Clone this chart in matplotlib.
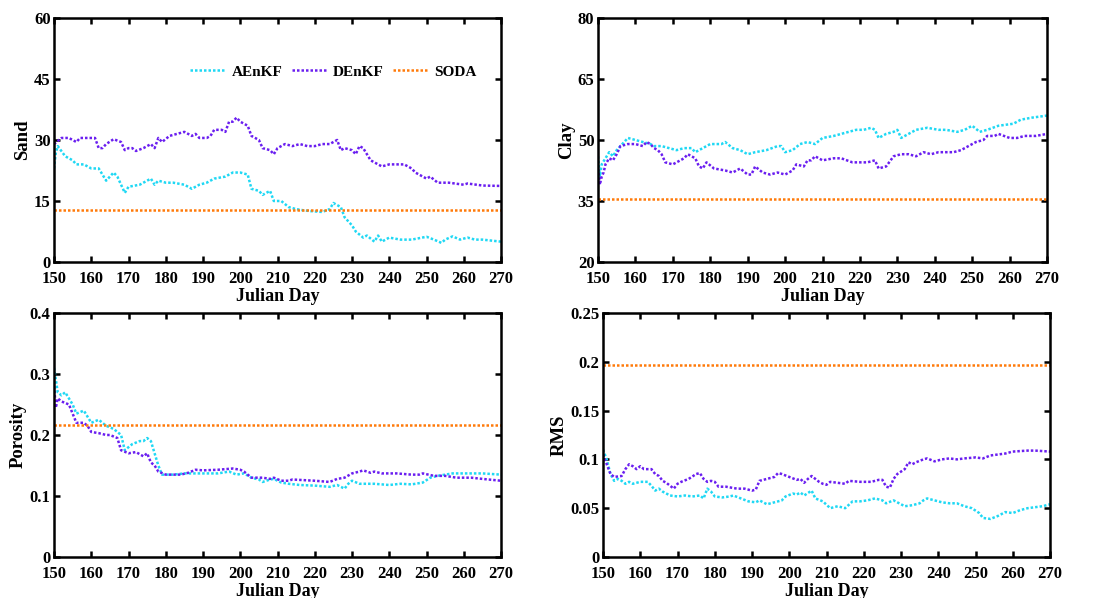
import matplotlib
matplotlib.use("Agg")
import matplotlib.pyplot as plt

plt.rcParams['font.family'] = ['Liberation Serif', 'DejaVu Serif']
plt.rcParams['font.weight'] = 'bold'

COL_A = '#1FD8F4'
COL_D = '#6A1EF0'
COL_S = '#FF7A0A'
DOTS = (0, (1.0, 0.8))

# ---- Sand ----
sand_a_day = [150, 150.5, 151, 153, 155, 156, 158, 160, 162, 163, 164, 166, 167, 168, 169, 170, 173, 175, 176,
              177, 178, 180, 182, 185, 187, 189, 191, 193, 196, 198, 200, 202, 203, 205, 206, 208, 209, 211,
              213, 215, 217, 219, 222, 224, 225, 227, 228, 230, 231, 233, 234, 236, 237, 238, 240, 243, 246,
              250, 252, 254, 255, 257, 259, 261, 263, 265, 270]
sand_a = [23, 27, 28.5, 26, 25, 24, 24, 23, 23, 21.5, 20, 22, 21, 19, 17, 18.5, 19, 20, 20.5,
          19, 20, 19.5, 19.5, 19, 18, 19, 19.5, 20.5, 21, 22, 22, 21.5, 18, 17.5, 16.5, 17.5, 15, 15,
          13.5, 13, 12.7, 12.5, 12.3, 13, 14.5, 13.5, 11, 9, 7.5, 6, 6.5, 5, 6.5, 5, 6, 5.5, 5.5,
          6.2, 5.5, 4.7, 5.5, 6.3, 5.5, 6, 5.5, 5.5, 5]
sand_d_day = [150, 152, 154, 156, 157, 161, 162, 163, 164, 166, 168, 169, 170, 171, 172, 174, 176, 177, 178,
              179, 181, 183, 185, 187, 188, 189, 191, 192, 193, 195, 196, 197, 198, 199, 200, 202, 203, 205,
              206, 208, 209, 210, 212, 214, 216, 218, 220, 222, 224, 226, 227, 228, 230, 231, 232, 233, 235,
              236, 238, 240, 244, 246, 247, 249, 250, 251, 253, 256, 260, 261, 265, 270]
sand_d = [29, 30.5, 30.5, 29.5, 30.5, 30.5, 28, 28, 29, 30.2, 29.5, 27.5, 28, 28, 27.3, 28, 29, 28, 30.5,
          29.5, 31, 31.5, 32, 31, 31.5, 30.5, 30.5, 31, 32.5, 32.5, 32, 34.5, 34.5, 35.5, 34.5, 33.5, 31, 30,
          28, 27.5, 26.5, 28, 29, 28.5, 29, 28.5, 28.5, 29, 29, 30, 27.5, 28, 27.5, 26.5, 28.5, 28, 25,
          24.5, 23.5, 24, 24, 23, 22, 21, 20.5, 21, 19.5, 19.5, 19, 19.3, 18.8, 18.7]
sand_soda = 12.8

# ---- Clay ----
clay_a_day = [150, 150.5, 151, 152, 153, 154, 155, 156, 157, 158, 160, 162, 164, 165, 167, 169, 171, 173, 175,
              176, 178, 180, 183, 184, 186, 188, 190, 192, 195, 198, 199, 200, 202, 204, 206, 208, 210, 213,
              215, 217, 219, 221, 223, 224, 225, 227, 229, 230, 231, 233, 235, 238, 241, 243, 246, 248, 250,
              252, 254, 257, 261, 263, 266, 270]
clay_a = [46, 41, 44, 45.5, 47, 46, 47.5, 48.5, 49.5, 50.5, 50, 49.5, 49, 48.5, 48.5, 48, 47.5, 48, 48,
          47, 48, 49, 49, 49.5, 48, 47.5, 46.5, 47, 47.5, 48.5, 48.5, 47, 47.5, 49, 49.5, 49, 50.5, 51,
          51.5, 52, 52.5, 52.5, 53, 52.5, 50.5, 51.5, 52, 52.5, 50.5, 51.5, 52.5, 53, 52.5, 52.5, 52, 52.5, 53.5,
          52, 52.5, 53.5, 54, 55, 55.5, 56]
clay_d_day = [150, 150.5, 151, 151.5, 152, 153, 154, 155, 156, 158, 160, 162, 163, 164, 165, 166, 167, 168,
              170, 171, 173, 174, 176, 177, 178, 179, 181, 184, 186, 188, 190, 191, 192, 194, 196, 198, 200,
              202, 203, 205, 206, 207, 208, 210, 213, 215, 218, 222, 224, 225, 227, 229, 231, 233, 235, 237,
              239, 241, 245, 247, 249, 251, 253, 254, 256, 257, 260, 262, 264, 267, 270]
clay_d = [43, 39, 41, 42, 44, 45.5, 45, 46.5, 48.5, 49, 49, 48.5, 49.5, 49, 48, 47.5, 46.5, 44.5,
          44, 44.5, 45.5, 46.5, 45.5, 43.5, 43, 44.5, 43, 42.5, 42, 43, 41.5, 41.5, 43.5, 42, 41.5, 42, 41.5,
          42.5, 44, 43.5, 45, 45, 46, 45, 45.5, 45.5, 44.5, 44.5, 45, 43, 43.5, 46, 46.5, 46.5, 46, 47,
          46.5, 47, 47, 47.5, 48.5, 49.5, 50, 51, 51, 51.5, 50.5, 50.5, 51, 51, 51.5]
clay_soda = 35.6

# ---- Porosity ----
por_a_day = [150, 151, 152, 153, 154, 155, 156, 158, 159, 160, 162, 164, 166, 168, 169, 171, 173, 174, 175,
             176, 177, 178, 179, 182, 185, 190, 194, 197, 199, 201, 203, 205, 206, 208, 209, 211, 213, 216,
             220, 224, 226, 228, 229, 230, 232, 236, 240, 243, 246, 249, 251, 253, 255, 257, 260, 265, 270]
por_a = [0.31, 0.27, 0.265, 0.27, 0.26, 0.25, 0.235, 0.24, 0.23, 0.22, 0.225, 0.215, 0.21, 0.2, 0.175, 0.185, 0.19, 0.19, 0.195,
         0.19, 0.17, 0.15, 0.135, 0.135, 0.137, 0.137, 0.137, 0.14, 0.135, 0.137, 0.13, 0.127, 0.123, 0.127, 0.128, 0.122, 0.12, 0.118,
         0.117, 0.115, 0.118, 0.112, 0.12, 0.125, 0.12, 0.12, 0.118, 0.12, 0.119, 0.122, 0.13, 0.133, 0.135, 0.137, 0.137, 0.137, 0.135]
por_d_day = [150, 150.5, 151, 152, 154, 155, 156, 158, 159, 160, 162, 164, 165, 167, 168, 170, 172, 174, 175,
             176, 177, 178, 180, 184, 186, 188, 190, 194, 198, 200, 201, 203, 206, 208, 209, 211, 213, 214,
             220, 224, 226, 228, 230, 232, 233, 235, 236, 238, 242, 246, 248, 249, 252, 255, 258, 262, 265, 270]
por_d = [0.28, 0.245, 0.26, 0.255, 0.25, 0.235, 0.22, 0.22, 0.215, 0.205, 0.203, 0.2, 0.2, 0.195, 0.175, 0.17, 0.172, 0.165, 0.17,
         0.155, 0.15, 0.14, 0.135, 0.135, 0.138, 0.143, 0.142, 0.143, 0.145, 0.143, 0.14, 0.13, 0.13, 0.128, 0.13, 0.125, 0.125, 0.127,
         0.125, 0.123, 0.128, 0.13, 0.137, 0.14, 0.142, 0.138, 0.14, 0.137, 0.137, 0.135, 0.135, 0.137, 0.133, 0.133, 0.13, 0.13, 0.128, 0.125]
por_soda = 0.216

# ---- RMS ----
rms_a_day = [150, 151, 152, 153, 154, 155, 156, 157, 158, 160, 162, 163, 164, 165, 166, 168, 170, 172, 174,
             176, 177, 178, 179, 180, 182, 184, 185, 187, 189, 191, 192, 194, 196, 198, 199, 201, 202, 203,
             204, 206, 207, 209, 211, 213, 215, 217, 219, 221, 223, 225, 226, 228, 229, 231, 233, 235, 236,
             237, 239, 241, 243, 245, 247, 249, 251, 252, 254, 256, 258, 260, 262, 264, 266, 268, 270]
rms_a = [0.11, 0.1, 0.085, 0.078, 0.08, 0.078, 0.075, 0.077, 0.075, 0.077, 0.077, 0.073, 0.068, 0.07, 0.067, 0.063, 0.062, 0.063, 0.062,
         0.063, 0.06, 0.07, 0.067, 0.062, 0.061, 0.062, 0.063, 0.06, 0.057, 0.056, 0.058, 0.054, 0.056, 0.058, 0.062, 0.065, 0.064, 0.066,
         0.063, 0.068, 0.06, 0.057, 0.05, 0.052, 0.05, 0.057, 0.057, 0.058, 0.06, 0.058, 0.055, 0.058, 0.056, 0.052, 0.053, 0.055, 0.058,
         0.06, 0.058, 0.056, 0.055, 0.055, 0.052, 0.05, 0.045, 0.04, 0.039, 0.042, 0.046, 0.045, 0.048, 0.05, 0.051, 0.052, 0.054]
rms_d_day = [150, 151, 152, 153, 155, 156, 157, 158, 159, 160, 161, 163, 164, 165, 166, 167, 168, 169, 170,
             171, 173, 175, 176, 177, 178, 179, 180, 181, 183, 186, 188, 190, 191, 192, 194, 196, 197, 198,
             200, 202, 203, 204, 205, 206, 207, 208, 209, 210, 211, 213, 215, 216, 219, 222, 224, 225, 226,
             227, 228, 229, 231, 232, 233, 234, 236, 237, 239, 241, 243, 245, 247, 250, 252, 254, 256, 258,
             260, 264, 266, 270]
rms_d = [0.105, 0.095, 0.085, 0.082, 0.083, 0.09, 0.095, 0.093, 0.09, 0.093, 0.09, 0.09, 0.085, 0.083, 0.078, 0.076, 0.073, 0.07, 0.075,
         0.077, 0.08, 0.085, 0.086, 0.08, 0.077, 0.078, 0.077, 0.072, 0.072, 0.07, 0.07, 0.068, 0.069, 0.078, 0.08, 0.082, 0.086, 0.085,
         0.082, 0.079, 0.08, 0.076, 0.08, 0.083, 0.08, 0.077, 0.075, 0.074, 0.077, 0.076, 0.075, 0.078, 0.077, 0.077, 0.079, 0.079, 0.072,
         0.071, 0.08, 0.085, 0.09, 0.097, 0.095, 0.097, 0.1, 0.101, 0.098, 0.1, 0.101, 0.1, 0.101, 0.102, 0.101, 0.104, 0.105, 0.106,
         0.108, 0.109, 0.109, 0.108]
rms_soda = 0.197

x_ticks = list(range(150, 271, 10))

panels = [
    dict(rect=[0.0492, 0.5619, 0.4071, 0.408], ylabel='Sand', ylim=(0, 60), yticks=[0, 15, 30, 45, 60],
         a=(sand_a_day, sand_a), d=(sand_d_day, sand_d), soda=sand_soda, legend=True),
    dict(rect=[0.5446, 0.5619, 0.4090, 0.408], ylabel='Clay', ylim=(20, 80), yticks=[20, 35, 50, 65, 80],
         a=(clay_a_day, clay_a), d=(clay_d_day, clay_d), soda=clay_soda, legend=False),
    dict(rect=[0.0492, 0.0686, 0.4071, 0.408], ylabel='Porosity', ylim=(0, 0.4), yticks=[0, 0.1, 0.2, 0.3, 0.4],
         a=(por_a_day, por_a), d=(por_d_day, por_d), soda=por_soda, legend=False),
    dict(rect=[0.5492, 0.0686, 0.4071, 0.408], ylabel='RMS', ylim=(0, 0.25),
         yticks=[0, 0.05, 0.1, 0.15, 0.2, 0.25],
         a=(rms_a_day, rms_a), d=(rms_d_day, rms_d), soda=rms_soda, legend=False),
]

fig = plt.figure(figsize=(10.98, 5.98), dpi=100)
for p in panels:
    ax = fig.add_axes(p['rect'])
    lw = 1.8
    ax.plot(*p['a'], ls=DOTS, color=COL_A, lw=lw, label='AEnKF')
    ax.plot(*p['d'], ls=DOTS, color=COL_D, lw=lw, label='DEnKF')
    ax.plot([150, 270], [p['soda'], p['soda']], ls=DOTS, color=COL_S, lw=lw, label='SODA')
    ax.set_xlim(150, 270)
    ax.set_ylim(*p['ylim'])
    ax.set_xticks(x_ticks)
    ax.set_yticks(p['yticks'])
    ax.set_yticklabels([f'{t:g}' for t in p['yticks']])
    ax.tick_params(direction='in', top=True, right=True, length=4.5, width=1.8, labelsize=12)
    ax.tick_params(axis='x', pad=6.5)
    ax.tick_params(axis='y', pad=2.5)
    for lab in ax.get_xticklabels() + ax.get_yticklabels():
        lab.set_fontweight('bold')
    for s in ax.spines.values():
        s.set_linewidth(1.8)
    ax.set_xlabel('Julian Day', fontsize=13, fontweight='bold', labelpad=0.5)
    ax.set_ylabel(p['ylabel'], fontsize=13.5, fontweight='bold', labelpad=2)
    if p['legend']:
        ax.legend(loc='center', bbox_to_anchor=(0.625, 0.78), ncol=3, frameon=False,
                  handlelength=2.3, columnspacing=0.6, handletextpad=0.4,
                  prop={'weight': 'bold', 'size': 11})

fig.savefig('out.png', dpi=100)
